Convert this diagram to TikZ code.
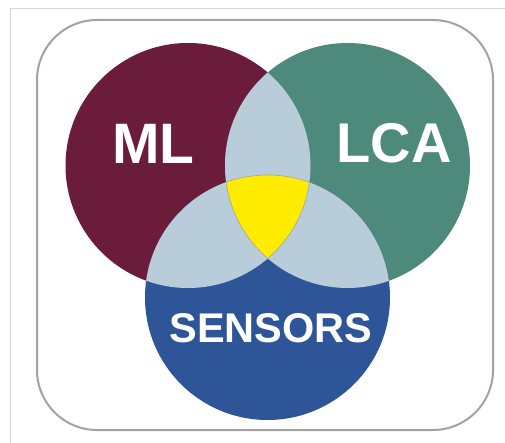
\documentclass[tikz,border=0pt]{standalone}
\usepackage{fontspec}
\setmainfont{Liberation Sans}
\definecolor{mlc}{HTML}{6B1C3B}
\definecolor{lcac}{HTML}{4D8A7B}
\definecolor{senc}{HTML}{2E5597}
\definecolor{overc}{HTML}{B8CDD9}
\definecolor{yelc}{HTML}{FFEC00}
\definecolor{framec}{HTML}{A3A3A3}
\definecolor{edgec}{HTML}{D4D4D4}
\begin{document}
\begin{tikzpicture}[x=1pt,y=-1pt,
  lbl/.style={text=white,font=\bfseries,inner sep=0pt,anchor=center}]
\useasboundingbox (0,0) rectangle (505,443);
\fill[white] (0,0) rectangle (505,443);
\draw[edgec,line width=1pt] (10,443) -- (10,9) -- (505,9);
\draw[framec,line width=2pt,rounded corners=60pt] (37,20) rectangle (493,430);
\def\rr{122.5}
\coordinate (cml) at (188,165.5);
\coordinate (clca) at (347.5,165.5);
\coordinate (csen) at (267.5,297.5);
\fill[mlc] (cml) circle (\rr);
\fill[lcac] (clca) circle (\rr);
\fill[senc] (csen) circle (\rr);
\begin{scope}
  \clip (cml) circle (\rr);
  \fill[overc] (clca) circle (\rr);
  \fill[overc] (csen) circle (\rr);
\end{scope}
\begin{scope}
  \clip (clca) circle (\rr);
  \fill[overc] (csen) circle (\rr);
\end{scope}
\begin{scope}
  \clip (cml) circle (\rr);
  \clip (clca) circle (\rr);
  \fill[yelc] (csen) circle (\rr);
\end{scope}
\begin{scope}
  \clip (cml) circle (\rr);
  \clip (clca) circle (\rr);
  \draw[framec,line width=0.6pt] (csen) circle (\rr);
\end{scope}
\begin{scope}
  \clip (cml) circle (\rr);
  \clip (csen) circle (\rr);
  \draw[framec,line width=0.6pt] (clca) circle (\rr);
\end{scope}
\begin{scope}
  \clip (clca) circle (\rr);
  \clip (csen) circle (\rr);
  \draw[framec,line width=0.6pt] (cml) circle (\rr);
\end{scope}
\node[lbl,font=\bfseries\fontsize{57}{57}\selectfont] (ml) at (153.5,144) {ML};
\node[lbl,font=\bfseries\fontsize{56}{56}\selectfont] (lca) at (394,143.5) {LCA};
\node[lbl,font=\bfseries\fontsize{41.5}{41.5}\selectfont] (sen) at (271,328) {SENSORS};
\end{tikzpicture}
\end{document}
